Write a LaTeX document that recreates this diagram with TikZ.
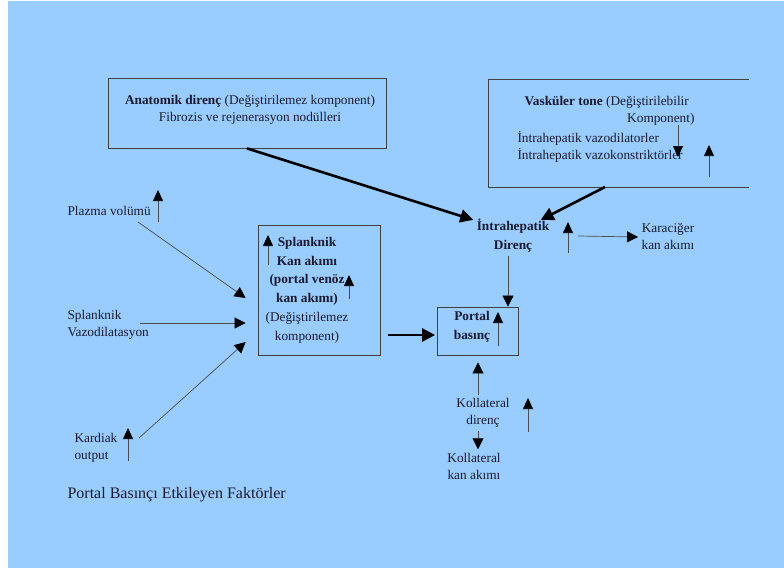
\documentclass[tikz,border=0pt]{standalone}
\usepackage{fontspec}
\setmainfont{Liberation Serif}
\usetikzlibrary{arrows.meta,calc}
\definecolor{skyblue}{HTML}{99CCFF}
\definecolor{ink}{HTML}{1A1A2E}
\begin{document}
\begin{tikzpicture}[x=1pt,y=-1pt,font=\fontsize{13.3}{17}\selectfont,text=ink]
    \tikzstyle{box}=[draw=black!75, line width=0.8pt, inner sep=0pt]
    \tikzstyle{arr}=[draw=black!70, line width=0.7pt, -{Triangle[length=11pt,width=11pt,color=black]}]
    \tikzstyle{fat}=[draw=black, line width=2.6pt, -{Triangle[length=13pt,width=13pt]}]
    \tikzstyle{trend}=[draw=black!70, line width=0.7pt, -{Triangle[length=11pt,width=10pt,color=black]}]
    \useasboundingbox (0,0) rectangle (784,570);
    \fill[skyblue] (8,1) rectangle (784,568);
    % boxes
    \node[box, minimum width=278, minimum height=70] (anat) at (247,113) {};
    \node[align=center] (anattxt) at (250,110)
        {\textbf{Anatomik direnç} (Değiştirilemez komponent)\\Fibrozis ve rejenerasyon nodülleri};
    \draw[black!75, line width=0.8pt] (749,79) -- (488,79) -- (488,187) -- (749,187);
    \coordinate (vaskb) at (605,187);
    \node[anchor=west] (vask) at (521,102) {\textbf{Vasküler tone} (Değiştirilebilir};
    \node[anchor=east] (komp) at (698,119) {Komponent)};
    \node[anchor=west, align=left] (vlist) at (514,147)
        {İntrahepatik vazodilatorler\\İntrahepatik vazokonstriktörler};
    \node[box, minimum width=122, minimum height=130] (splank) at (319,290) {};
    \node[align=center, font=\fontsize{13.3}{18.8}\selectfont] (splanktxt) at (307,290)
        {\textbf{Splanknik}\\\textbf{Kan akımı}\\\textbf{(portal venöz}\\\textbf{kan akımı)}\\(Değiştirilemez\\komponent)};
    \node[box, minimum width=81, minimum height=48] (portal) at (478,331) {};
    \node[align=center, font=\bfseries\fontsize{13.3}{19}\selectfont] (portaltxt) at (472,327) {Portal\\basınç};
    % labels
    \node[align=center, font=\bfseries\fontsize{13.3}{19}\selectfont] (intra) at (513,236) {İntrahepatik\\Direnç};
    \node[align=center] (kara) at (668,237) {Karaciğer\\kan akımı};
    \node[anchor=west] (plaz) at (64,211) {Plazma volümü};
    \node[anchor=west, align=left] (vazo) at (64,325) {Splanknik\\Vazodilatasyon};
    \node[anchor=west, align=left] (kard) at (71,448) {Kardiak\\output};
    \node[align=center] (kdir) at (483,413) {Kollateral\\direnç};
    \node[align=center] (kkan) at (474,466) {Kollateral\\kan akımı};
    \node[anchor=west, font=\fontsize{16}{18}\selectfont] (title) at (64,495) {Portal Basınçı Etkileyen Faktörler};
    % connectors
    \draw[fat] (anat.south) -- ($(intra.north west)+(0,4)$);
    \draw[fat] (vaskb) -- ($(intra.north east)+(-12,4)$);
    \draw[fat, shorten <=8pt, shorten >=2pt] (splank.east |- 0,335) -- (portal.west |- 0,335);
    \draw[arr] (intra.south -| 508,0) -- (portal.north -| 508,0);
    \draw[arr] (578,236) -- (kara.west);
    \draw[arr] (138,222) -- ($(splank.west)+(-12,8)$);
    \draw[arr] (140,323) -- ($(splank.west)+(-12,33)$);
    \draw[arr] (139,438) -- ($(splank.west)+(-12,52)$);
    \draw[arr, shorten >=7pt] (kdir.north -| 478,0) -- (portal.south -| 478,0);
    \draw[arr] (kdir.south -| 478,0) -- (kkan.north -| 478,0);
    % trend arrows
    \foreach \x/\ya/\yb in {158/222/190, 128/461/428, 268/265/235, 349/299/275,
                            498/346/312, 568/253/222, 528/432/398, 709/177/145, 678/125/157}
        \draw[trend] (\x,\ya) -- (\x,\yb);
\end{tikzpicture}
\end{document}
